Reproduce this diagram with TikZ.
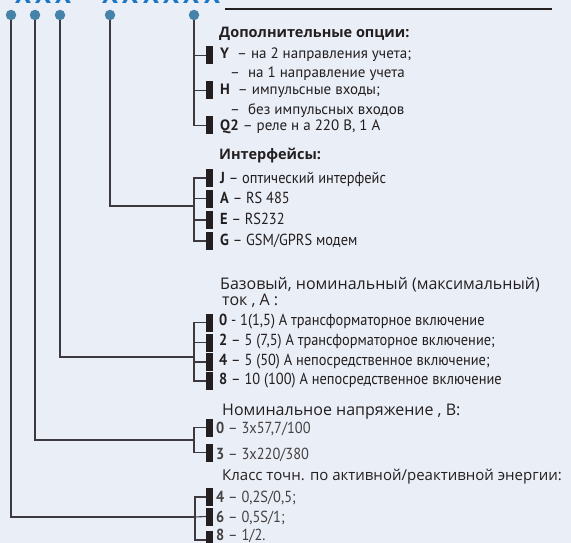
\documentclass[tikz,border=0pt]{standalone}
\usepackage{fontspec}
\setmainfont{PT Sans}
\newfontfamily\condfont[FakeStretch=0.9]{PT Sans}
\newfontfamily\headfont{Open Sans}
\definecolor{bg}{RGB}{234,238,247}
\definecolor{pinblue}{RGB}{70,131,168}
\definecolor{codeblue}{RGB}{28,118,198}
\definecolor{ink}{RGB}{35,31,32}
\definecolor{wirec}{RGB}{60,58,62}
\tikzset{
  pin/.style={circle, fill=pinblue, inner sep=0pt, minimum size=10.5pt},
  tab/.style={rectangle, fill=ink, inner sep=0pt, minimum width=7pt, minimum height=18pt},
  wire/.style={draw=wirec, line width=1.1pt},
  code/.style={anchor=base, inner sep=0pt, text=codeblue, font=\fontsize{26}{26}\selectfont\bfseries},
  head/.style={anchor=base west, inner sep=0pt, text=ink, font=\fontsize{14.5}{14.5}\headfont\bfseries},
  bighead/.style={anchor=base west, inner sep=0pt, text=ink, font=\fontsize{16}{16}\headfont},
  opt/.style={anchor=base west, inner sep=0pt, text=ink, font=\fontsize{15}{15}\selectfont},
  cond/.style={anchor=base west, inner sep=0pt, text=ink, font=\fontsize{16}{16}\condfont},
  val/.style={anchor=base west, inner sep=0pt, text=ink!85, font=\fontsize{16}{16}\condfont}
}
\begin{document}
\begin{tikzpicture}[x=1pt,y=-1pt]

    % frame
    \useasboundingbox (0,0) rectangle (571,543);
    \fill [bg] (0,0) rectangle (571,543);

    % code letters
    \foreach \x [count=\i] in {23,43,63,110,130,151,171,191,212}
        \node [code] (x\i) at (\x,3.5) {X};
    \draw [ink, line width=2pt] (225,9) -- (552,9);

    % pins
    \node [pin] (p1) at (11,15) {};
    \node [pin] (p2) at (35,15) {};
    \node [pin] (p3) at (60,15) {};
    \node [pin] (p4) at (110,15) {};
    \node [pin] (p5) at (194,15) {};

    % tabs
    \node [tab] (tY) at (209.5,55.5) {};
    \node [tab] (tH) at (209.5,90.5) {};
    \node [tab] (tQ) at (209.5,125.5) {};

    \node [tab] (tJ) at (209.5,178) {};
    \node [tab] (tA) at (209.5,198.5) {};
    \node [tab] (tE) at (209.5,220) {};
    \node [tab] (tG) at (209.5,241) {};

    \node [tab] (tc0) at (209.5,322.5) {};
    \node [tab] (tc2) at (209.5,342.5) {};
    \node [tab] (tc4) at (209.5,362) {};
    \node [tab] (tc8) at (209.5,381) {};

    \node [tab] (tv0) at (209.5,427.5) {};
    \node [tab] (tv3) at (209.5,452.5) {};

    \node [tab] (tk4) at (209.5,497) {};
    \node [tab] (tk6) at (209.5,516.5) {};
    \node [tab] (tk8) at (209.5,540) {};

    % brackets
    \coordinate (bI) at (194,206);
    \coordinate (bC) at (194,357);
    \coordinate (bV) at (194,440);
    \coordinate (bK) at (195,517);

    % wires
    \draw [wire] (p5) |- (tQ.west);
    \draw [wire] (p5 |- tY) -- (tY.west);
    \draw [wire] (p5 |- tH) -- (tH.west);

    \draw [wire] (p4) |- (bI);
    \draw [wire] (tJ.west) -| (bI) |- (tG.west);
    \draw [wire] (bI |- tA) -- (tA.west);
    \draw [wire] (bI |- tE) -- (tE.west);

    \draw [wire] (p3) |- (bC);
    \draw [wire] (tc0.west) -| (bC) |- (tc8.west);
    \draw [wire] (bC |- tc2) -- (tc2.west);
    \draw [wire] (bC |- tc4) -- (tc4.west);

    \draw [wire] (p2) |- (bV);
    \draw [wire] (tv0.west) -| (bV) |- (tv3.west);

    \draw [wire] (p1) |- (bK);
    \draw [wire] (tk4.west) -| (bK) |- (tk8.west);
    \draw [wire] (bK) -- (tk6.west);

    % options
    \node [head] (hO) at (219,38) {Дополнительные опции:};
    \node [opt] (lY) at (220,59) {\textbf{Y}\ \ – на 2 направления учета;};
    \node [opt] (lY2) at (230,78) {–\ \ на 1 направление учета};
    \node [opt] (lH) at (220,95) {\textbf{H}\ \ – импульсные входы;};
    \node [opt] (lH2) at (230,114) {–\ \ без импульсных входов};
    \node [opt] (lQ) at (220,131) {\textbf{Q2} – реле н а 220 В, 1 А};

    % interfaces
    \node [head] (hI) at (219,160) {Интерфейсы:};
    \node [cond] (lJ) at (220,183) {\textbf{J} – оптический интерфейс};
    \node [cond] (lA) at (220,203) {\textbf{A} – RS 485};
    \node [cond] (lE) at (220,224) {\textbf{E} – RS232};
    \node [cond] (lG) at (220,245) {\textbf{G} – GSM/GPRS модем};

    % current
    \node [bighead] (hC) at (220,289) {Базовый, номинальный (максимальный)};
    \node [bighead] (hC2) at (222,305) {ток , А :};
    \node [cond] (lc0) at (219,325) {\textbf{0} - 1(1,5) А трансформаторное включение};
    \node [cond] (lc2) at (219,345) {\textbf{2} – 5 (7,5) А трансформаторное включение;};
    \node [cond] (lc4) at (219,365) {\textbf{4} – 5 (50) А непосредственное включение;};
    \node [cond] (lc8) at (219,384) {\textbf{8} – 10 (100) А непосредственное включение};

    % voltage
    \node [bighead] (hV) at (222,415) {Номинальное напряжение , В:};
    \node [val] (lv0) at (216,433) {\textbf{0} – 3x57,7/100};
    \node [val] (lv3) at (216,459) {\textbf{3} – 3x220/380};

    % accuracy class
    \node [bighead, font=\fontsize{15}{15}\headfont] (hK) at (222,480) {Класс точн. по активной/реактивной энергии:};
    \node [val] (lk4) at (216,502) {\textbf{4} – 0,2S/0,5;};
    \node [val] (lk6) at (216,522) {\textbf{6} – 0,5S/1;};
    \node [val] (lk8) at (216,540) {\textbf{8} – 1/2.};

\end{tikzpicture}
\end{document}
